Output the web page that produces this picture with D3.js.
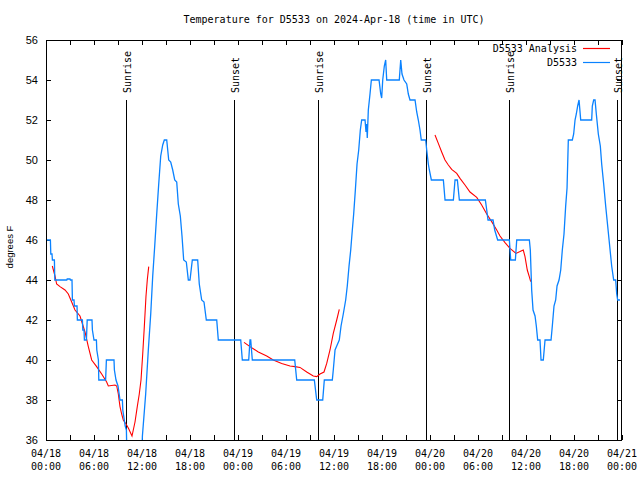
<!DOCTYPE html>
<html><head><meta charset="utf-8">
<script src="https://cdn.jsdelivr.net/npm/d3@7/dist/d3.min.js"></script>
<style>body{margin:0;background:#fff}svg{display:block}</style>
</head><body><svg id="c" width="640" height="480"></svg>
<script>
const titleText = "Temperature for D5533 on 2024-Apr-18 (time in UTC)";
const yLabelText = "degrees F";
const seriesNames = ["D5533 Analysis", "D5533"];
const yTickValues = [36,38,40,42,44,46,48,50,52,54,56];
const xLabelHours = [0,6,12,18,24,30,36,42,48,54,60,66,72];
const sunriseHours = [10.03, 34.03, 57.93];
const sunsetHours = [23.55, 47.55, 71.42];

// observed D5533 (hours since 2024-04-18 00:00 UTC, deg F)
const obsHours = [0,0.55,0.6,0.75,0.8,1.05,1.1,2.6,2.65,3.0,3.05,3.25,3.3,3.5,3.55,3.88,3.92,4.55,4.6,4.75,4.8,5.05,5.15,5.75,5.8,6.0,6.3,6.35,6.55,6.6,7.45,7.55,8.5,8.55,8.75,9.0,9.25,9.55,9.6,9.9,10.05,10.1,12.0,12.05,12.46,12.79,13.09,13.34,13.59,13.84,14.09,14.34,14.59,14.79,15.09,15.34,15.59,15.84,16.09,16.34,16.54,16.79,17.0,17.21,17.54,17.79,18.0,18.29,18.96,19.16,19.46,19.75,20.04,21.34,21.54,24.34,24.54,25.34,25.5,25.59,25.79,31.09,31.34,33.54,33.84,34.59,34.79,35.79,35.91,36.13,36.34,36.66,36.88,37.16,37.46,37.66,37.88,38.09,38.29,38.46,38.67,38.88,39.09,39.29,39.46,39.88,40.0,40.09,40.16,40.29,40.5,40.67,41.63,41.84,41.96,42.09,42.29,42.46,42.59,44.16,44.34,44.5,44.75,45.09,45.29,45.5,46.13,46.34,46.54,46.75,46.91,47.46,47.59,47.79,47.92,48.17,49.67,49.88,50.92,51.13,51.42,51.67,54.92,55.09,55.25,55.88,56.09,56.46,57.92,58.09,58.67,58.84,60.42,60.54,60.71,60.88,61.13,61.29,61.46,61.75,61.88,62.16,62.38,63.13,63.29,63.5,63.71,63.88,64.13,64.34,64.54,64.75,64.96,65.13,65.29,65.79,65.96,66.13,66.29,66.46,66.63,66.84,68.21,68.29,68.46,68.63,68.79,69.04,69.29,69.46,69.71,69.96,70.21,70.46,70.71,70.96,71.21,71.34,71.46,71.75];
const obsTemps = [46,46,45.3,45.3,45,45,44,44,44.05,44.05,44,44,43,43,42.7,42.7,42,42,41.5,41.5,41,41,42,42,41.5,41,41,40.5,40,39,39,40,40,39.5,39,38.7,38,38,37.5,36.7,36.5,35.5,35.5,36.2,38.3,40.5,42.3,44.2,45.7,47.3,48.8,50.2,50.75,51,51,50,49.9,49.5,49,48.9,47.8,47.2,46.2,45,44.9,44,44,45,45,43.8,43,42.9,42,42,41,41,40,40,41,41,40,40,39,39,38,38,39,39,39.5,40.5,40.7,41,41.7,42.3,43,43.7,44.7,45.5,46.5,47.3,48.5,49.8,50.5,51.5,52,52,51.4,51.8,51.1,52.5,53.3,54,54,53.3,53.1,54,54.7,55,54,54,55,54.3,54,53.8,53.3,53,53,52.4,52,51.5,51,51,50.5,49.8,49.5,49,49,48,48,49,49,48,48,47.5,47,47,46.5,46,46,45,45,46,46,45.5,43.5,42.5,42.2,41.7,41,41,40,40,41,41,41.7,42.7,43,43.7,44,44.5,45.5,46.3,47.7,48.6,51,51,51.3,52,52.3,52.7,53,52,52,52.7,53,53,52.3,51.3,50.7,49.8,48.8,47.7,46.7,45.7,44.7,44,44,43.3,43,43];

// analysis (null = gap between runs)
const anaHours = [0.79,1.125,1.33,1.75,2.375,2.79,3.21,3.625,4.25,4.875,5.29,5.71,6.33,6.96,7.58,7.79,8.625,8.84,9.04,9.25,9.46,9.66,10.0,10.29,10.75,11.125,11.41,11.66,11.875,12.09,12.29,12.5,12.66,12.84,
  null,
  24.75,25.5,26.54,27.59,28.41,29.46,30.5,31.125,31.75,32.59,33.41,33.84,34.25,34.75,35.09,35.5,35.91,36.34,36.66,
  null,
  48.625,49.04,49.46,49.875,50.29,50.71,51.34,51.75,52.375,53.0,53.84,54.46,55.09,55.71,56.34,56.75,57.375,58.0,58.75,59.25,59.66,59.875,60.16,60.41,60.59];
const anaTemps = [44.7,44.2,43.8,43.67,43.5,43.3,42.9,42.5,42.2,41.4,40.67,40,39.67,39.3,38.9,38.7,38.75,38.7,38.3,37.67,37.3,37.0,36.8,36.6,36.2,36.9,37.67,38.3,39,40.3,41.67,43.2,44,44.67,
  null,
  40.88,40.67,40.4,40.2,40,39.83,39.7,39.67,39.63,39.4,39.2,39.17,39.3,39.4,39.83,40.5,41.33,42,42.53,
  null,
  51.25,50.83,50.4,50,49.75,49.53,49.33,49.08,48.75,48.4,48.13,47.75,47.3,46.92,46.5,46.2,45.87,45.58,45.33,45.42,45.5,45.17,44.5,44.17,43.92];

const t0 = Date.UTC(2024, 3, 18, 0, 0);
const toDate = h => new Date(t0 + h * 3600e3);
const L = 46, R = 622, T = 40, B = 440;
const mono = "'DejaVu Sans Mono', monospace";
const sans = "'Liberation Sans', Arial, sans-serif";

const svg = d3.select("#c");
const x = d3.scaleUtc().domain([toDate(0), toDate(72)]).range([L, R]);
const y = d3.scaleLinear().domain([36, 56]).range([B, T]);

svg.append("defs").append("clipPath").attr("id", "clip")
  .append("rect").attr("x", L).attr("y", T).attr("width", R - L).attr("height", B - T);

// title
svg.append("text").attr("x", (L + R) / 2).attr("y", 20)
  .attr("text-anchor", "middle").attr("dominant-baseline", "middle")
  .style("font-family", mono).style("font-size", "10px").text(titleText);

// axes ticks (inward)
const hourTicks = d3.range(0, 73, 3).map(toDate);
function styleAxis(g) {
  g.select(".domain").remove();
  g.selectAll(".tick line").attr("stroke", "#000").attr("shape-rendering", "crispEdges");
}
svg.append("g").attr("transform", `translate(0,${B})`)
  .call(d3.axisBottom(x).tickValues(hourTicks).tickSize(-5).tickFormat(""))
  .call(styleAxis);
svg.append("g").attr("transform", `translate(0,${T})`)
  .call(d3.axisTop(x).tickValues(hourTicks).tickSize(-5).tickFormat(""))
  .call(styleAxis);
const yl = svg.append("g").attr("transform", `translate(${L},0)`)
  .call(d3.axisLeft(y).tickValues(yTickValues).tickSize(-5).tickPadding(8).tickFormat(d3.format("d")))
  .call(styleAxis);
yl.selectAll(".tick text").style("font-family", sans).style("font-size", "11px").attr("fill", "#000");
svg.append("g").attr("transform", `translate(${R},0)`)
  .call(d3.axisRight(y).tickValues(yTickValues).tickSize(-5).tickFormat(""))
  .call(styleAxis);

// x labels (two rows)
const fDate = d3.utcFormat("%m/%d"), fTime = d3.utcFormat("%H:%M");
const xl = svg.append("g").style("font-family", mono).style("font-size", "10px");
xLabelHours.forEach(h => {
  const d = toDate(h);
  xl.append("text").attr("x", x(d)).attr("y", 454).attr("text-anchor", "middle")
    .attr("dominant-baseline", "middle").text(fDate(d));
  xl.append("text").attr("x", x(d)).attr("y", 467).attr("text-anchor", "middle")
    .attr("dominant-baseline", "middle").text(fTime(d));
});

// y label
svg.append("text").attr("transform", `translate(10,${(T + B) / 2 + 7}) rotate(-90)`)
  .attr("text-anchor", "middle").attr("dominant-baseline", "middle")
  .style("font-family", sans).style("font-size", "9.5px").text(yLabelText);

// sunrise / sunset lines
const events = sunriseHours.map(h => ({h, name: "Sunrise"}))
  .concat(sunsetHours.map(h => ({h, name: "Sunset"})));
const ev = svg.append("g");
events.forEach(e => {
  const xx = Math.round(x(toDate(e.h))) + 0.5;
  ev.append("line").attr("x1", xx).attr("x2", xx).attr("y1", 100).attr("y2", B)
    .attr("stroke", "#000").attr("stroke-width", 1).attr("shape-rendering", "crispEdges");
  ev.append("text").attr("transform", `translate(${xx + 1},93) rotate(-90)`)
    .attr("text-anchor", "start").attr("dominant-baseline", "middle")
    .style("font-family", mono).style("font-size", "10px").text(e.name);
});

// data lines
const anaData = anaHours.map((h, i) => ({h, v: anaTemps[i]}));
const obsData = obsHours.map((h, i) => ({h, v: obsTemps[i]}));
const line = d3.line().defined(d => d.h !== null && d.v !== null)
  .x(d => x(toDate(d.h))).y(d => y(d.v));
const dg = svg.append("g").attr("clip-path", "url(#clip)");
dg.append("path").datum(anaData).attr("d", line).attr("fill", "none")
  .attr("stroke", "#ff0000").attr("stroke-width", 1.1);
dg.append("path").datum(obsData).attr("d", line).attr("fill", "none")
  .attr("stroke", "#0a82ff").attr("stroke-width", 1.3);

// frame
svg.append("rect").attr("x", L + 0.5).attr("y", T + 0.5).attr("width", R - L - 1).attr("height", B - T)
  .attr("fill", "none").attr("stroke", "#000").attr("shape-rendering", "crispEdges");

// legend
const lg = svg.append("g").style("font-family", mono).style("font-size", "10px");
const legendColors = ["#ff0000", "#0a82ff"];
seriesNames.forEach((n, i) => {
  const yy = 48 + i * 14;
  lg.append("text").attr("x", 577).attr("y", yy + 1).attr("text-anchor", "end")
    .attr("dominant-baseline", "middle").text(n);
  lg.append("line").attr("x1", 583).attr("x2", 610).attr("y1", yy + 0.5).attr("y2", yy + 0.5)
    .attr("stroke", legendColors[i]).attr("stroke-width", 1.2);
});
</script>
</body></html>
